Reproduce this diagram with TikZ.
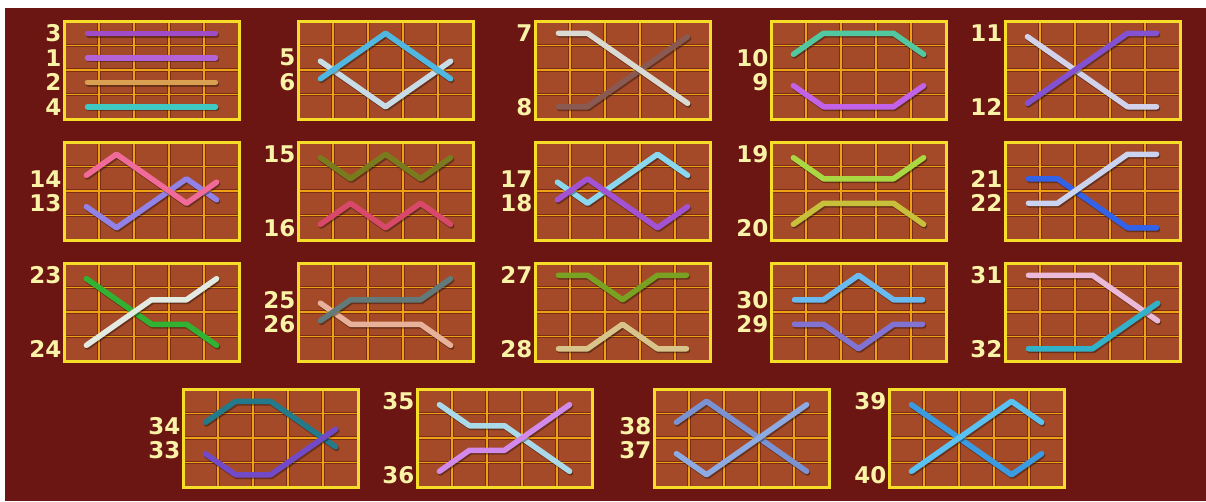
\documentclass[tikz,border=0pt]{standalone}
\usepackage{fontspec}
\setmainfont{DejaVu Sans}

\definecolor{bgmaroon}{HTML}{6C1614}
\definecolor{cellbrown}{HTML}{A44A28}
\definecolor{gridorange}{HTML}{F0A014}
\definecolor{griddark}{HTML}{7A2E16}
\definecolor{frameyellow}{HTML}{F6DE28}
\definecolor{lblyellow}{HTML}{FAF2A6}

% one reel box: 5 columns x 4 rows, unit = one cell
\newcommand{\paygrid}{%
  \fill[black, opacity=.35] (0.06,0.1) rectangle (5.06,4.1);
  \fill[cellbrown] (0,0) rectangle (5,4);
  \foreach \c in {1,...,4} \draw[griddark, line width=3.5pt] (\c,0) -- (\c,4);
  \foreach \r in {1,2,3} \draw[griddark, line width=3.5pt] (0,\r) -- (5,\r);
  \foreach \c in {1,...,4} \draw[gridln] (\c,0) -- (\c,4);
  \foreach \r in {1,2,3} \draw[gridln] (0,\r) -- (5,\r);
  \draw[framebox] (0,0) rectangle (5,4);}

% payline: colour, then the row hit on each of the five reels
\newcommand{\payline}[6]{%
  \definecolor{linecol}{HTML}{#1}%
  \draw[lineshadow] (0.5,#2-0.5) -- (1.5,#3-0.5) -- (2.5,#4-0.5) -- (3.5,#5-0.5) -- (4.5,#6-0.5);
  \draw[payln, draw=linecol] (0.5,#2-0.5) -- (1.5,#3-0.5) -- (2.5,#4-0.5) -- (3.5,#5-0.5) -- (4.5,#6-0.5);}

\begin{document}
\begin{tikzpicture}[
        x=1pt, y=-1pt,
        gridln/.style={draw=gridorange, line width=1.7pt},
        framebox/.style={draw=frameyellow, line width=3pt},
        payln/.style={line width=5.5pt, line cap=round, line join=round, shorten <=6pt, shorten >=6pt},
        lineshadow/.style={payln, draw=black, opacity=.35, shift={(0.03,0.07)}},
        numlbl/.style={anchor=east, inner sep=2.5pt, text=lblyellow, font=\bfseries\fontsize{23}{23}\selectfont},
        reel/.style={x=35pt, y=-24.5pt},
    ]
    \useasboundingbox (0,0) rectangle (1206,501);
    \fill[white] (0,0) rectangle (1206,501);
    \fill[bgmaroon] (5,8) rectangle (1206,501);

    % row 1
    \begin{scope}[shift={(64,21)}, reel]
        \paygrid
        \payline{A04CC8}{1}{1}{1}{1}{1}
        \payline{B462D8}{2}{2}{2}{2}{2}
        \payline{D8A050}{3}{3}{3}{3}{3}
        \payline{40C8C2}{4}{4}{4}{4}{4}
        \node[numlbl] (n3) at (0,0.5) {3};
        \node[numlbl] (n1) at (0,1.5) {1};
        \node[numlbl] (n2) at (0,2.5) {2};
        \node[numlbl] (n4) at (0,3.5) {4};
    \end{scope}
    \begin{scope}[shift={(298,21)}, reel]
        \paygrid
        \payline{C8DCE8}{2}{3}{4}{3}{2}
        \payline{50B8E0}{3}{2}{1}{2}{3}
        \node[numlbl] (n5) at (0,1.5) {5};
        \node[numlbl] (n6) at (0,2.5) {6};
    \end{scope}
    \begin{scope}[shift={(535,21)}, reel]
        \paygrid
        \payline{8A5A52}{4}{4}{3}{2}{1}
        \payline{DADAD2}{1}{1}{2}{3}{4}
        \node[numlbl] (n7) at (0,0.5) {7};
        \node[numlbl] (n8) at (0,3.5) {8};
    \end{scope}
    \begin{scope}[shift={(771,21)}, reel]
        \paygrid
        \payline{52C8A0}{2}{1}{1}{1}{2}
        \payline{C262E8}{3}{4}{4}{4}{3}
        \node[numlbl] (n10) at (0,1.5) {10};
        \node[numlbl] (n9) at (0,2.5) {9};
    \end{scope}
    \begin{scope}[shift={(1005,21)}, reel]
        \paygrid
        \payline{D2D2EA}{1}{2}{3}{4}{4}
        \payline{8252D2}{4}{3}{2}{1}{1}
        \node[numlbl] (n11) at (0,0.5) {11};
        \node[numlbl] (n12) at (0,3.5) {12};
    \end{scope}

    % row 2
    \begin{scope}[shift={(64,142)}, reel]
        \paygrid
        \payline{9282E8}{3}{4}{3}{2}{3}
        \payline{F06A9A}{2}{1}{2}{3}{2}
        \node[numlbl] (n14) at (0,1.5) {14};
        \node[numlbl] (n13) at (0,2.5) {13};
    \end{scope}
    \begin{scope}[shift={(298,142)}, reel]
        \paygrid
        \payline{7A7A1E}{1}{2}{1}{2}{1}
        \payline{D84868}{4}{3}{4}{3}{4}
        \node[numlbl] (n15) at (0,0.5) {15};
        \node[numlbl] (n16) at (0,3.5) {16};
    \end{scope}
    \begin{scope}[shift={(535,142)}, reel]
        \paygrid
        \payline{8AD8F0}{2}{3}{2}{1}{2}
        \payline{A252D2}{3}{2}{3}{4}{3}
        \node[numlbl] (n17) at (0,1.5) {17};
        \node[numlbl] (n18) at (0,2.5) {18};
    \end{scope}
    \begin{scope}[shift={(771,142)}, reel]
        \paygrid
        \payline{AAD842}{1}{2}{2}{2}{1}
        \payline{C8C03A}{4}{3}{3}{3}{4}
        \node[numlbl] (n19) at (0,0.5) {19};
        \node[numlbl] (n20) at (0,3.5) {20};
    \end{scope}
    \begin{scope}[shift={(1005,142)}, reel]
        \paygrid
        \payline{3262E8}{2}{2}{3}{4}{4}
        \payline{CAD4F0}{3}{3}{2}{1}{1}
        \node[numlbl] (n21) at (0,1.5) {21};
        \node[numlbl] (n22) at (0,2.5) {22};
    \end{scope}

    % row 3
    \begin{scope}[shift={(64,263)}, reel]
        \paygrid
        \payline{32B232}{1}{2}{3}{3}{4}
        \payline{E2EAE2}{4}{3}{2}{2}{1}
        \node[numlbl] (n23) at (0,0.5) {23};
        \node[numlbl] (n24) at (0,3.5) {24};
    \end{scope}
    \begin{scope}[shift={(298,263)}, reel]
        \paygrid
        \payline{E8B29A}{2}{3}{3}{3}{4}
        \payline{627A7A}{3}{2}{2}{2}{1}
        \node[numlbl] (n25) at (0,1.5) {25};
        \node[numlbl] (n26) at (0,2.5) {26};
    \end{scope}
    \begin{scope}[shift={(535,263)}, reel]
        \paygrid
        \payline{7AA222}{1}{1}{2}{1}{1}
        \payline{D8C48A}{4}{4}{3}{4}{4}
        \node[numlbl] (n27) at (0,0.5) {27};
        \node[numlbl] (n28) at (0,3.5) {28};
    \end{scope}
    \begin{scope}[shift={(771,263)}, reel]
        \paygrid
        \payline{6ABAF2}{2}{2}{1}{2}{2}
        \payline{8272D2}{3}{3}{4}{3}{3}
        \node[numlbl] (n30) at (0,1.5) {30};
        \node[numlbl] (n29) at (0,2.5) {29};
    \end{scope}
    \begin{scope}[shift={(1005,263)}, reel]
        \paygrid
        \payline{EABAD8}{1}{1}{1}{2}{3}
        \payline{32B2CA}{4}{4}{4}{3}{2}
        \node[numlbl] (n31) at (0,0.5) {31};
        \node[numlbl] (n32) at (0,3.5) {32};
    \end{scope}

    % row 4
    \begin{scope}[shift={(183,389)}, reel]
        \paygrid
        \payline{227A8A}{2}{1}{1}{2}{3}
        \payline{724AC8}{3}{4}{4}{3}{2}
        \node[numlbl] (n34) at (0,1.5) {34};
        \node[numlbl] (n33) at (0,2.5) {33};
    \end{scope}
    \begin{scope}[shift={(417,389)}, reel]
        \paygrid
        \payline{AADAEA}{1}{2}{2}{3}{4}
        \payline{D28AEA}{4}{3}{3}{2}{1}
        \node[numlbl] (n35) at (0,0.5) {35};
        \node[numlbl] (n36) at (0,3.5) {36};
    \end{scope}
    \begin{scope}[shift={(654,389)}, reel]
        \paygrid
        \payline{7A92D2}{2}{1}{2}{3}{4}
        \payline{8EAAE2}{3}{4}{3}{2}{1}
        \node[numlbl] (n38) at (0,1.5) {38};
        \node[numlbl] (n37) at (0,2.5) {37};
    \end{scope}
    \begin{scope}[shift={(889,389)}, reel]
        \paygrid
        \payline{3A9AE2}{1}{2}{3}{4}{3}
        \payline{5AC2F2}{4}{3}{2}{1}{2}
        \node[numlbl] (n39) at (0,0.5) {39};
        \node[numlbl] (n40) at (0,3.5) {40};
    \end{scope}
\end{tikzpicture}
\end{document}
